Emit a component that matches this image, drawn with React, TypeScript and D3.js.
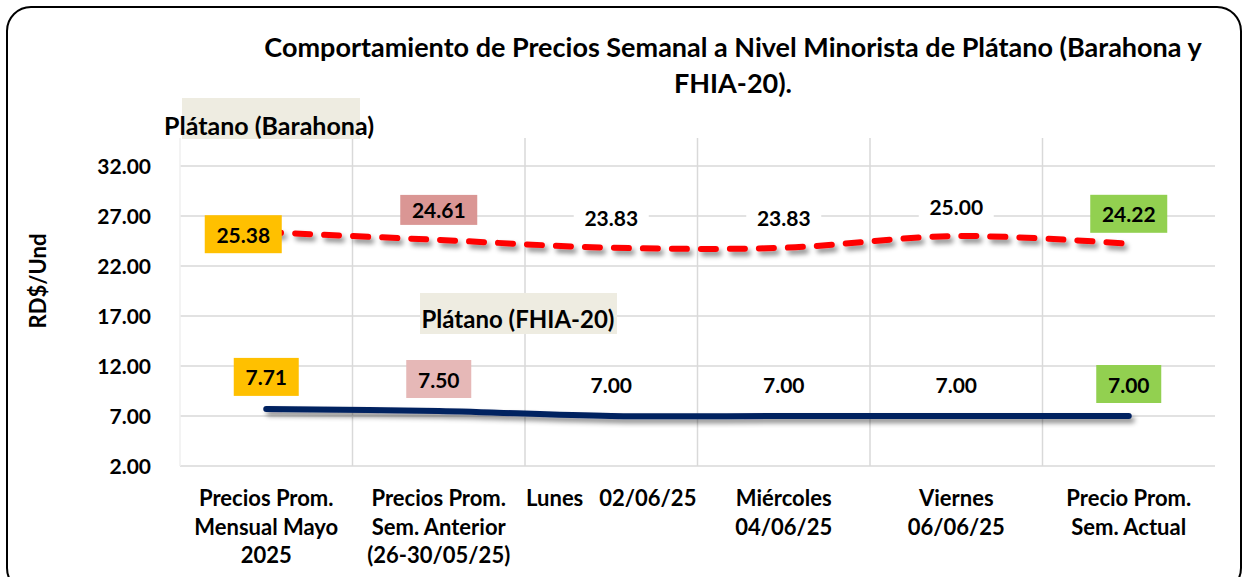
import * as d3 from "d3";

const categories = [
  ["Precios Prom.", "Mensual Mayo", "2025"],
  ["Precios Prom.", "Sem. Anterior", "(26-30/05/25)"],
  ["Lunes   02/06/25"],
  ["Miércoles", "04/06/25"],
  ["Viernes", "06/06/25"],
  ["Precio Prom.", "Sem. Actual"],
];
const barahona = [25.38, 24.61, 23.83, 23.83, 25.0, 24.22];
const fhia = [7.71, 7.5, 7.0, 7.0, 7.0, 7.0];
const yTicks = [2, 7, 12, 17, 22, 27, 32];
const barahonaFills = ["#FFC000", "#DA9694", "#FFFFFF", "#FFFFFF", "#FFFFFF", "#92D050"];
const fhiaFills = ["#FFC000", "#E6B8B7", "#FFFFFF", "#FFFFFF", "#FFFFFF", "#92D050"];

const W = 1244;
const H = 577;
const FONT = "Lato, 'Open Sans', sans-serif";

export default function App() {
  const left = 180;
  const right = 1215;
  const keys = categories.map((_, i) => String(i));
  const x = d3.scaleBand<string>().domain(keys).range([left, right]);
  const cx = (i: number) => (x(String(i)) as number) + x.bandwidth() / 2;
  const y = d3.scaleLinear().domain([2, 32]).range([466, 166]);
  const top = y(34.8);

  const line = d3
    .line<number>()
    .x((_, i) => cx(i))
    .y((d) => y(d))
    .curve(d3.curveCatmullRom.alpha(0.5));

  const labelBox = (
    value: number,
    i: number,
    fill: string,
    bx: number,
    by: number,
    w: number,
    h: number
  ) => {
    const white = fill === "#FFFFFF";
    const bw = white ? w - 2 : w;
    const bh = white ? 24 : h;
    return (
      <g key={i}>
        <rect x={bx - bw / 2} y={by - bh / 2} width={bw} height={bh} fill={fill} />
        <text
          x={bx}
          y={by}
          textAnchor="middle"
          dominantBaseline="central"
          fontSize={21}
          fontWeight={700}
          fill="#000"
        >
          {value.toFixed(2)}
        </text>
      </g>
    );
  };

  return (
    <svg
      width={W}
      height={H}
      style={{ position: "absolute", left: 0, top: 0, fontFamily: FONT }}
    >
      <defs>
        <filter id="shadow" x="-10%" y="-50%" width="120%" height="300%">
          <feDropShadow dx="3" dy="4" stdDeviation="2.5" floodColor="#000" floodOpacity="0.45" />
        </filter>
      </defs>
      <rect x={0} y={0} width={W} height={H} fill="#fff" />
      <rect x={7} y={7} width={1234} height={585} rx={24} fill="#fff" stroke="#000" strokeWidth={2} />

      {/* title */}
      <text textAnchor="middle" fontSize={27} fontWeight={700} fill="#000">
        <tspan x={733} y={57}>
          Comportamiento de Precios Semanal a Nivel Minorista de Plátano (Barahona y
        </tspan>
        <tspan x={733} y={93}>
          FHIA-20).
        </tspan>
      </text>

      {/* gridlines */}
      {yTicks.map((t) => (
        <line key={t} x1={left} x2={right} y1={y(t)} y2={y(t)} stroke="#D9D9D9" strokeWidth={1.5} />
      ))}
      {keys.map((k, i) => (
        <line
          key={k}
          x1={x(k) as number}
          x2={x(k) as number}
          y1={top}
          y2={y(2)}
          stroke={i === 0 ? "#EFEFEF" : "#D9D9D9"}
          strokeWidth={1.5}
        />
      ))}

      {/* series names */}
      <rect x={182} y={98} width={178} height={41} fill="#EEECE1" />
      <text x={164} y={135} fontSize={25} fontWeight={700}>
        Plátano (Barahona)
      </text>
      <rect x={420} y={293} width={197} height={41} fill="#EEECE1" />
      <text x={518} y={328} textAnchor="middle" fontSize={24} fontWeight={700}>
        Plátano (FHIA-20)
      </text>

      {/* y axis */}
      {yTicks.map((t) => (
        <text key={t} x={151} y={y(t) + 8} textAnchor="end" fontSize={21} fontWeight={700}>
          {t.toFixed(2)}
        </text>
      ))}
      <text
        transform="translate(46,281) rotate(-90)"
        textAnchor="middle"
        fontSize={22}
        fontWeight={700}
      >
        RD$/Und
      </text>

      {/* x axis */}
      {categories.map((lines, i) => (
        <text key={i} textAnchor="middle" fontSize={22} fontWeight={700} style={{ whiteSpace: "pre" }}>
          {lines.map((l, j) => (
            <tspan key={j} x={cx(i)} y={506 + j * 28.5}>
              {l}
            </tspan>
          ))}
        </text>
      ))}

      {/* lines */}
      <path
        d={line(barahona) ?? ""}
        fill="none"
        stroke="#FF0000"
        strokeWidth={6}
        strokeDasharray="15 14"
        strokeLinecap="round"
        filter="url(#shadow)"
      />
      <path
        d={line(fhia) ?? ""}
        fill="none"
        stroke="#002060"
        strokeWidth={6}
        strokeLinecap="round"
        filter="url(#shadow)"
      />

      {/* data labels */}
      {barahona.map((v, i) =>
        i === 0
          ? labelBox(v, i, barahonaFills[i], cx(i) - 23, y(v) + 2, 77, 38)
          : labelBox(v, i, barahonaFills[i], cx(i), y(v) - 30, 77, i === 1 ? 30 : 38)
      )}
      {fhia.map((v, i) => labelBox(v, i + 10, fhiaFills[i], cx(i), y(v) - 32, 65, 38))}
    </svg>
  );
}
